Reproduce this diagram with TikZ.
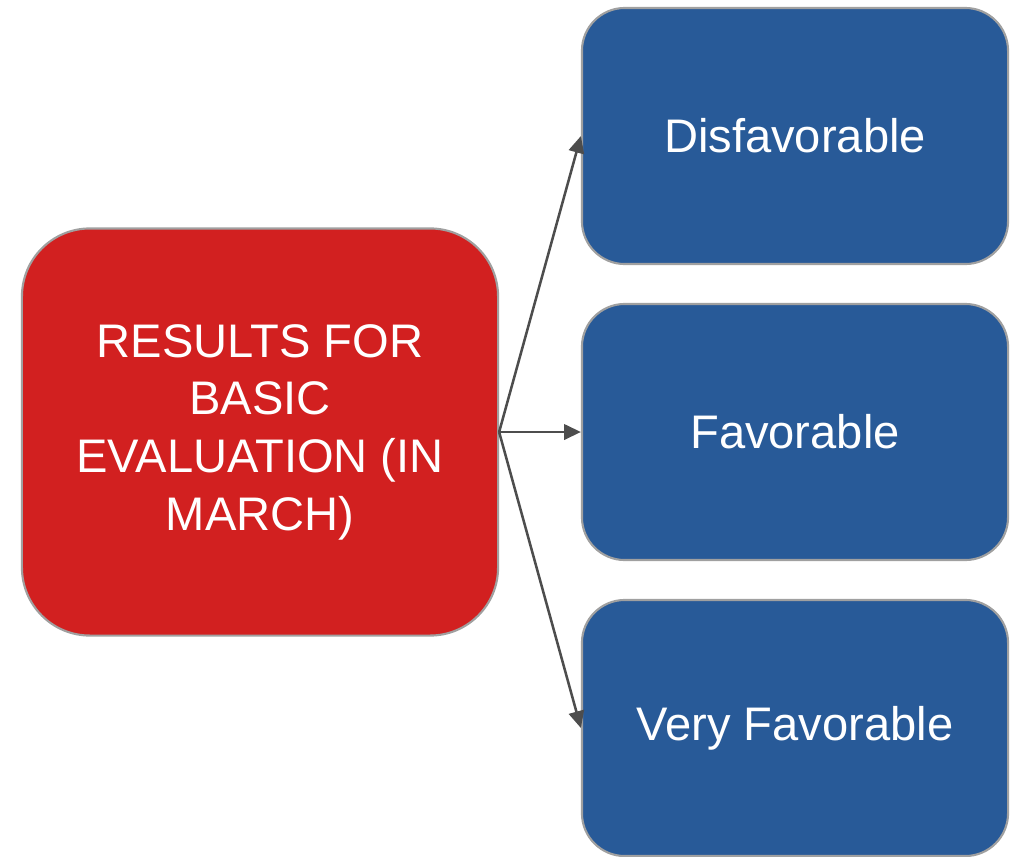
\documentclass[tikz,border=0pt]{standalone}
\usepackage{fontspec}
\setmainfont{Liberation Sans}
\usepackage{tikz}
\usetikzlibrary{arrows.meta, positioning}
\definecolor{resred}{HTML}{D22020}
\definecolor{evalblue}{HTML}{285A98}
\definecolor{rimgray}{HTML}{A0A0A0}
\definecolor{linkgray}{HTML}{4D4D4D}

\begin{document}
\begin{tikzpicture}[x=0.025cm,y=-0.025cm,
	box/.style={draw=rimgray, line width=1.5pt, text=white, inner sep=0pt, align=center,
		font=\fontsize{33.5}{41}\selectfont},
	redbox/.style={box, fill=resred, rounded corners=1.7cm, minimum width=11.9cm, minimum height=10.175cm},
	bluebox/.style={box, fill=evalblue, rounded corners=1.07cm, minimum width=10.65cm, minimum height=6.4cm},
	link/.style={draw=linkgray, line width=1.8pt, -{Triangle[length=12pt,width=11pt]}}]
	\useasboundingbox (0,0) rectangle (1018,856);
	% source box
	\node[redbox] (results) at (260,432) {RESULTS FOR\\BASIC\\EVALUATION (IN\\MARCH)};
	% outcome boxes
	\node[bluebox] (disfav) at (795,136) {Disfavorable};
	\node[bluebox] (fav) at (795,432) {Favorable};
	\node[bluebox] (veryfav) at (795,728) {Very Favorable};
	% links
	\draw[link] (results.east) -- (disfav.west);
	\draw[link] (results.east) -- (fav.west);
	\draw[link] (results.east) -- (veryfav.west);
\end{tikzpicture}
\end{document}
